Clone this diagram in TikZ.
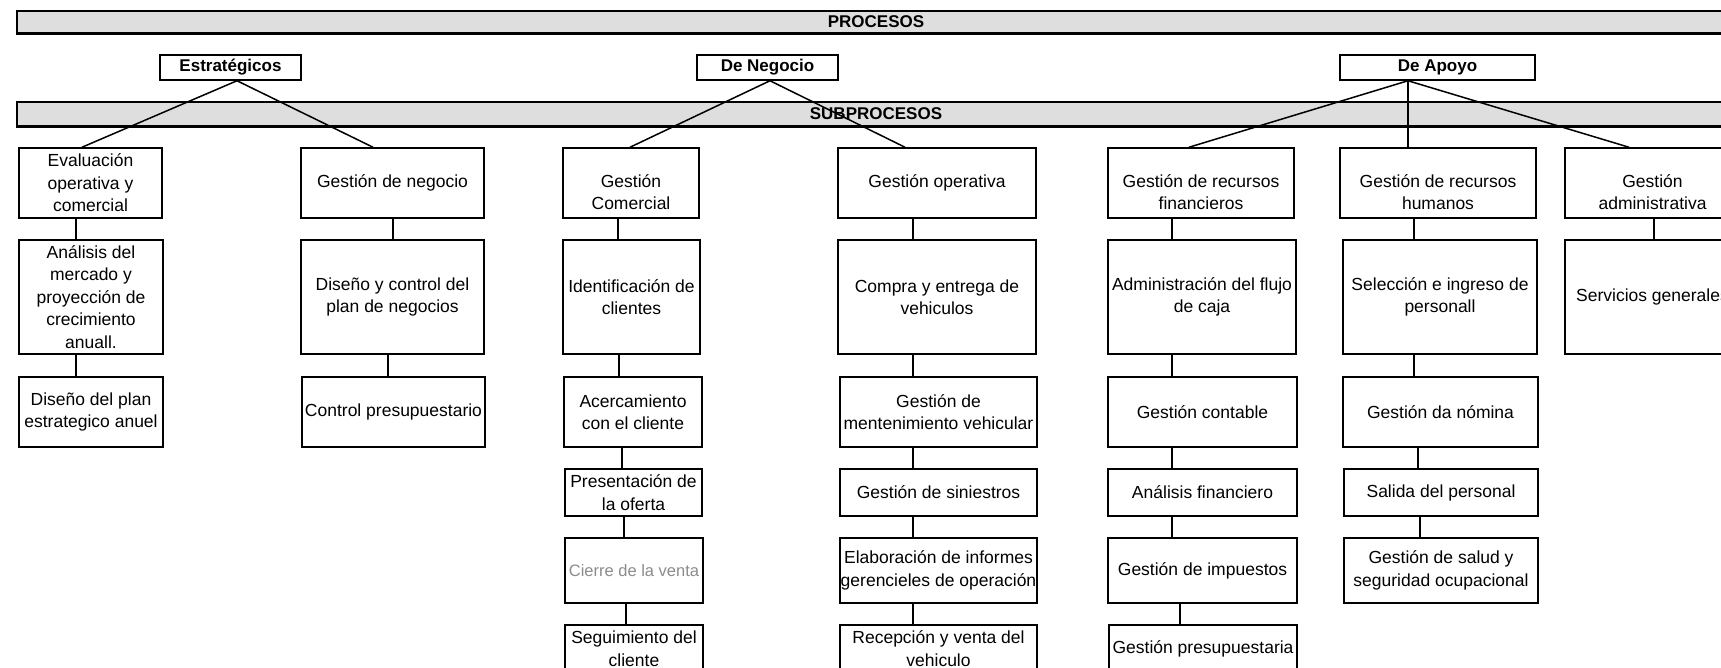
\documentclass[tikz,border=0pt]{standalone}
\usepackage{fontspec}
\setmainfont{Liberation Sans}
\usetikzlibrary{calc}
\newcommand\mybox[7][0]{%
  \pgfmathsetmacro\bw{#5-#3}\pgfmathsetmacro\bh{#6-#4}%
  \node[box, minimum width=\bw pt, minimum height=\bh pt,
        label={[txt, yshift=-#1pt]center:{#7}}] (#2) at ({(#3+#5)/2},{(#4+#6)/2}) {};}
\newcommand\myhead[6]{%
  \pgfmathsetmacro\bw{#4-#2}\pgfmathsetmacro\bh{#5-#3}%
  \node[head, minimum width=\bw pt, minimum height=\bh pt] (#1) at ({(#2+#4)/2},{(#3+#5)/2}) {#6};}
\newcommand\vc[3]{\draw[conn] ([xshift=#3pt]#1.south) -- ([xshift=#3pt]#1.south |- #2.north);}
\begin{document}
\begin{tikzpicture}[x=1pt,y=-1pt,
  box/.style={draw, line width=1.5pt, inner sep=0pt},
  txt/.style={inner sep=0pt, align=center, font=\fontsize{17.5}{22.5}\selectfont},
  head/.style={draw, line width=1.5pt, inner sep=0pt, align=center, font=\bfseries\fontsize{17}{20}\selectfont},
  conn/.style={line width=1.5pt},
  barbox/.style={fill=black!13, draw, line width=1.2pt, inner sep=0pt, font=\bfseries\fontsize{17}{20}\selectfont}]
\useasboundingbox[fill=white] (0,0) rectangle (1721,668);
\begin{scope}
\clip (0,0) rectangle (1721,668);
% bars
\node[barbox, minimum width=1718pt, minimum height=22pt] (procesos) at (876,22) {PROCESOS};
\draw[line width=2.2pt] (procesos.south west) -- (procesos.south east);
\node[barbox, minimum width=1718pt, minimum height=24pt] (subprocesos) at (876,114) {SUBPROCESOS};
\draw[line width=2.2pt] (subprocesos.south west) -- (subprocesos.south east);
% heads
\myhead{estr}{160}{55}{301}{80}{Estratégicos}
\myhead{neg}{697}{55}{838}{80}{De Negocio}
\myhead{apo}{1340}{55}{1535}{80}{De Apoyo}
% row 1
\mybox{eval}{19}{148}{162}{218}{Evaluación\\operativa y\\comercial}
\mybox{gneg}{301}{148}{484}{218}{Gestión de negocio}
\mybox[9]{gcom}{563}{148}{699}{218}{Gestión\\Comercial}
\mybox{gope}{838}{148}{1036}{218}{Gestión operativa}
\mybox[9]{grf}{1108}{148}{1294}{218}{Gestión de recursos\\financieros}
\mybox[9]{grh}{1340}{148}{1536}{218}{Gestión de recursos\\humanos}
\mybox[9]{gadm}{1565}{148}{1740}{218}{Gestión\\administrativa}
% row 2
\mybox{anal}{19}{240}{163}{354}{Análisis del\\mercado y\\proyección de\\crecimiento\\anuall.}
\mybox{dcon}{301}{240}{484}{354}{Diseño y control del\\plan de negocios}
\mybox{iden}{563}{240}{700}{354}{Identificación de\\clientes}
\mybox{comp}{838}{240}{1036}{354}{Compra y entrega de\\vehiculos}
\mybox{admf}{1108}{240}{1296}{354}{Administración del flujo\\de caja}
\mybox{sele}{1343}{240}{1537}{354}{Selección e ingreso de\\personall}
\mybox{serv}{1565}{240}{1740}{354}{Servicios generales}
% row 3
\mybox{dplan}{19}{377}{163}{447}{Diseño del plan\\estrategico anuel}
\mybox{cpres}{302}{377}{485}{447}{Control presupuestario}
\mybox{acer}{564}{377}{702}{447}{Acercamiento\\con el cliente}
\mybox{gman}{840}{377}{1037}{447}{Gestión de\\mentenimiento vehicular}
\mybox{gcont}{1108}{377}{1297}{447}{Gestión contable}
\mybox{gnom}{1343}{377}{1538}{447}{Gestión da nómina}
% row 4
\mybox{pres}{565}{469}{702}{516}{Presentación de\\la oferta}
\mybox{gsin}{840}{469}{1037}{516}{Gestión de siniestros}
\mybox{afin}{1108}{469}{1297}{516}{Análisis financiero}
\mybox{sal}{1344}{469}{1538}{516}{Salida del personal}
% row 5
\mybox{cier}{565}{538}{703}{603}{\fontsize{16.5}{19}\selectfont\textcolor{black!45}{Cierre de la venta}}
\mybox{elab}{840}{538}{1037}{603}{Elaboración de informes\\gerencieles de operación}
\mybox{gimp}{1108}{538}{1297}{603}{Gestión de impuestos}
\mybox{salud}{1344}{538}{1538}{603}{Gestión de salud y\\seguridad ocupacional}
% row 6
\mybox{seg}{565}{625}{703}{672}{Seguimiento del\\cliente}
\mybox{rec}{840}{625}{1037}{672}{Recepción y venta del\\vehiculo}
\mybox{gpre}{1109}{625}{1297}{672}{Gestión presupuestaria}
% top connectors
\draw[conn] ([xshift=6.5pt]estr.south) -- ([xshift=-8.5pt]eval.north);
\draw[conn] ([xshift=6.5pt]estr.south) -- ([xshift=-19.5pt]gneg.north);
\draw[conn] ([xshift=2.5pt]neg.south) -- ([xshift=-1pt]gcom.north);
\draw[conn] ([xshift=2.5pt]neg.south) -- ([xshift=-32pt]gope.north);
\draw[conn] ([xshift=-29.5pt]apo.south) -- ([xshift=-12pt]grf.north);
\draw[conn] ([xshift=-29.5pt]apo.south) -- ([xshift=-30pt]grh.north);
\draw[conn] ([xshift=-29.5pt]apo.south) -- ([xshift=-23.5pt]gadm.north);
% vertical connectors
\vc{eval}{anal}{-14.5}
\vc{anal}{dplan}{-15}
\vc{gneg}{dcon}{0.5}
\vc{dcon}{cpres}{-4.5}
\vc{gcom}{iden}{-13}
\vc{iden}{acer}{-12.5}
\vc{acer}{pres}{-11}
\vc{pres}{cier}{-9.5}
\vc{cier}{seg}{-8}
\vc{gope}{comp}{-24}
\vc{comp}{gman}{-24}
\vc{gman}{gsin}{-25.5}
\vc{gsin}{elab}{-25.5}
\vc{elab}{rec}{-25.5}
\vc{grf}{admf}{-29}
\vc{admf}{gcont}{-30}
\vc{gcont}{afin}{-30.5}
\vc{afin}{gimp}{-30.5}
\vc{gimp}{gpre}{-22.5}
\vc{grh}{sele}{-24}
\vc{sele}{gnom}{-26}
\vc{gnom}{sal}{-22.5}
\vc{sal}{salud}{-21}
\vc{gadm}{serv}{1.5}
\end{scope}
\end{tikzpicture}
\end{document}
